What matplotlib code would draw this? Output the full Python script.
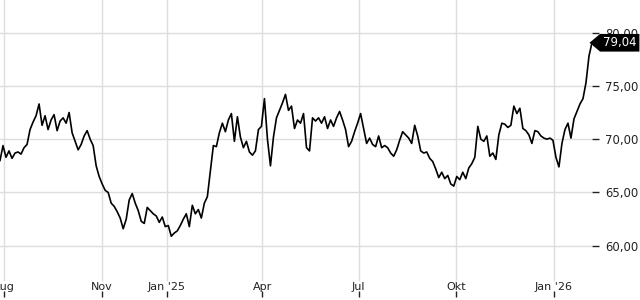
import numpy as np
import pandas as pd
import matplotlib
matplotlib.use('Agg')
import matplotlib.pyplot as plt
from matplotlib.path import Path

# price, evenly spaced in time
start = '2024-07-28'
end = '2026-02-06'
prices = [
    68.0, 69.4, 68.3, 68.9, 68.2, 68.7, 68.8, 68.6, 69.2, 69.5,
    70.9, 71.6, 72.2, 73.3, 71.3, 72.2, 70.9, 71.8, 72.3, 70.8,
    71.7, 72.0, 71.5, 72.5, 70.6, 69.8, 69.0, 69.5, 70.3, 70.8,
    70.0, 69.4, 67.5, 66.5, 65.8, 65.2, 65.0, 64.0, 63.7, 63.2,
    62.6, 61.6, 62.5, 64.3, 64.9, 64.0, 63.3, 62.3, 62.1, 63.6,
    63.3, 63.0, 62.8, 62.2, 62.7, 61.8, 61.9, 60.9, 61.2, 61.4,
    61.9, 62.5, 63.0, 61.8, 63.8, 63.0, 63.4, 62.6, 64.0, 64.6,
    67.0, 69.4, 69.3, 70.6, 71.5, 70.7, 71.8, 72.4, 69.8, 72.1,
    70.2, 69.2, 69.8, 68.8, 68.5, 68.9, 70.9, 71.2, 73.8, 70.0,
    67.5, 70.2, 72.0, 72.7, 73.4, 74.2, 72.7, 73.1, 71.0, 71.8,
    71.5, 72.4, 69.2, 68.9, 72.0, 71.7, 72.0, 71.5, 72.1, 71.0,
    71.8, 71.2, 72.0, 72.6, 71.8, 70.9, 69.3, 69.8, 70.7, 71.5,
    72.4, 71.0, 69.6, 70.1, 69.5, 69.3, 70.3, 69.2, 69.4, 69.2,
    68.7, 68.4, 69.0, 69.9, 70.7, 70.4, 70.1, 69.6, 71.3, 70.3,
    68.9, 68.7, 68.8, 68.2, 67.9, 67.2, 66.4, 66.9, 66.3, 66.6,
    65.8, 65.6, 66.5, 66.2, 66.9, 66.3, 67.3, 67.7, 68.3, 71.2,
    70.0, 69.8, 70.3, 68.4, 68.7, 68.1, 70.4, 71.5, 71.4, 71.1,
    71.3, 73.1, 72.4, 72.9, 71.0, 70.8, 70.4, 69.6, 70.8, 70.7,
    70.3, 70.1, 70.0, 70.1, 69.9, 68.3, 67.4, 69.6, 70.9, 71.5,
    70.1, 71.9, 72.6, 73.3, 73.8, 75.3, 77.8, 79.04,
]
dates = pd.date_range(start, end, periods=len(prices))

tick_dates = pd.to_datetime(['2024-08-01', '2024-11-01', '2025-01-01', '2025-04-01',
                             '2025-07-01', '2025-10-01', '2026-01-01'])
tick_labels = ['Aug', 'Nov', "Jan '25", 'Apr', 'Jul', 'Okt', "Jan '26"]
y_ticks = [60, 65, 70, 75, 80]


def tag_box(x0, y0, width, height, mutation_size):
    # black price tag pointing left
    px = 0.25 * mutation_size
    py = 0.2 * mutation_size
    x0, y0 = x0 - px, y0 - py
    x1, y1 = x0 + width + 2 * px, y0 + height + 2 * py
    ym = (y0 + y1) / 2
    tip = (y1 - y0) * 0.6
    return Path([(x0, y0), (x1, y0), (x1, y1), (x0, y1), (x0 - tip, ym), (x0, y0)], closed=True)


fig = plt.figure(figsize=(6.4, 3.0), dpi=100)
ax = fig.add_axes([0, 0.01, 592 / 640, 0.99])

ax.plot(dates, prices, color='black', lw=1.2)
ax.set_xlim(dates[0], dates[-1])
ax.set_ylim(55.2, 83.05)

for s in ax.spines.values():
    s.set_visible(False)

ax.yaxis.tick_right()
ax.set_yticks(y_ticks)
ax.set_yticklabels([f'{v:.2f}'.replace('.', ',') for v in y_ticks])
ax.tick_params(axis='y', direction='out', length=5, width=1, pad=4.5,
               labelsize=8.4, colors='#222222')
ax.grid(axis='y', color='#dddddd', lw=1)

ax.set_xticks(tick_dates)
ax.set_xticklabels(tick_labels)
ax.tick_params(axis='x', direction='in', length=4, width=1, pad=-10.8,
               labelsize=8, colors='#222222')
for d in tick_dates:
    ax.axvline(d, ymin=17 / 297, ymax=1, color='#dddddd', lw=1, zorder=0)

last = prices[-1]
ax.annotate(f'{last:.2f}'.replace('.', ','), xy=(1, last),
            xycoords=('axes fraction', 'data'), xytext=(11, 0),
            textcoords='offset pixels', ha='left', va='center',
            fontsize=8.4, color='white', annotation_clip=False,
            bbox=dict(boxstyle=tag_box, fc='black', ec='none'))

fig.savefig('out.png', dpi=100)
